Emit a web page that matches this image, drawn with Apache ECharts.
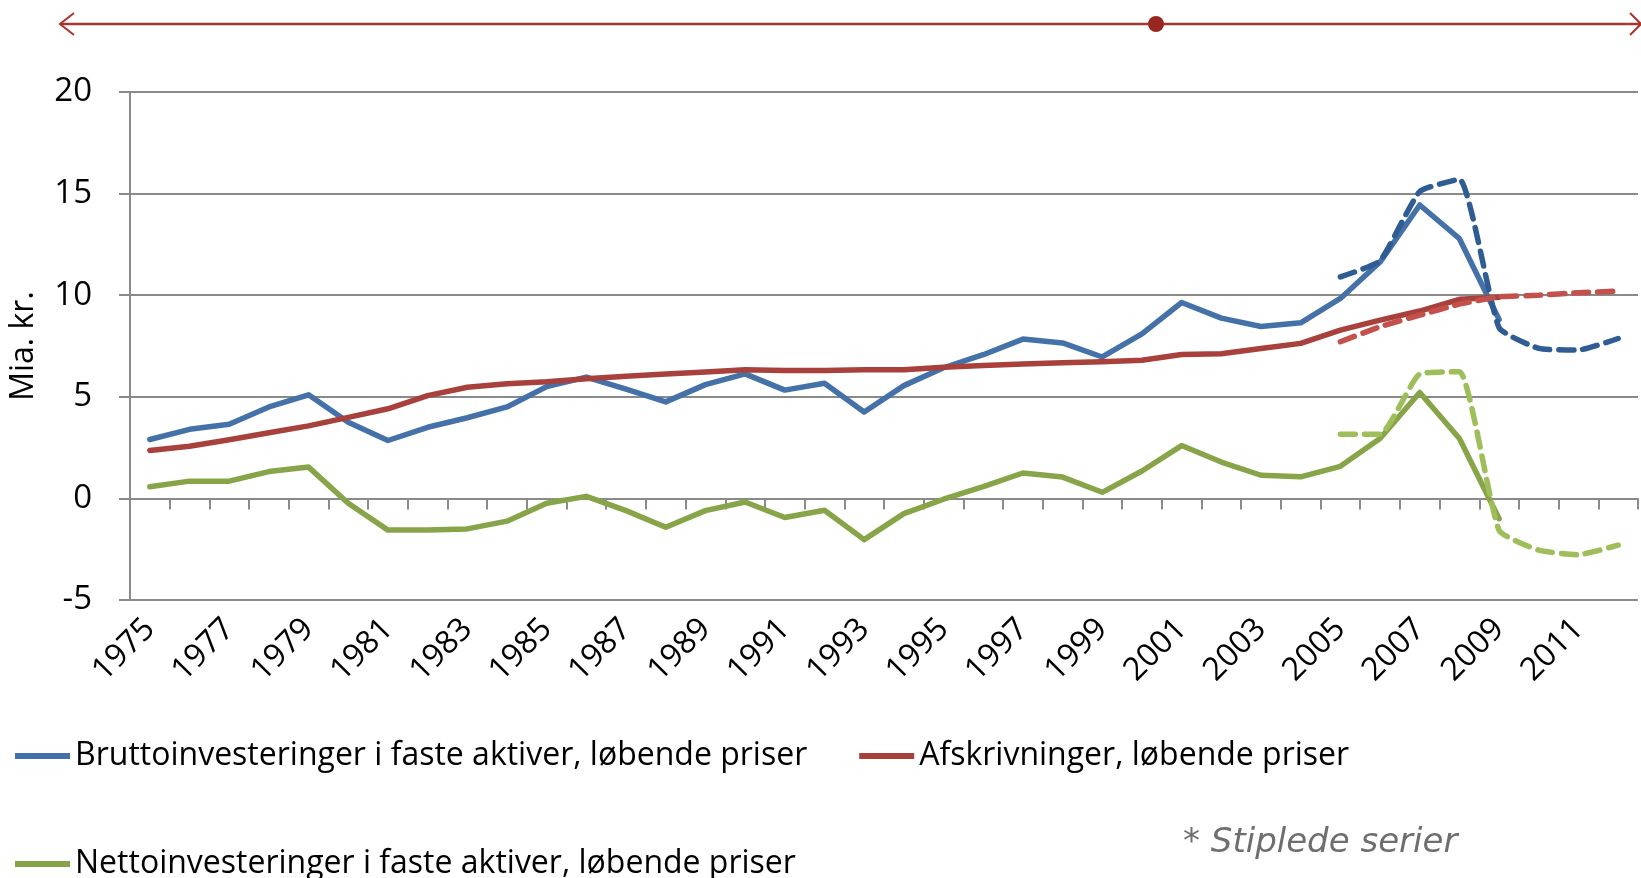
<!DOCTYPE html>
<html>
<head>
<meta charset="utf-8">
<script src="https://cdn.jsdelivr.net/npm/echarts@6/dist/echarts.min.js"></script>
<style>
  html, body { margin: 0; padding: 0; background: #fff; }
  #chart { width: 1641px; height: 878px; }
</style>
</head>
<body>
<div id="chart"></div>
<script>
var years = ['1975','1976','1977','1978','1979','1980','1981','1982','1983','1984',
  '1985','1986','1987','1988','1989','1990','1991','1992','1993','1994',
  '1995','1996','1997','1998','1999','2000','2001','2002','2003','2004',
  '2005','2006','2007','2008','2009','2010','2011','2012'];

var yTicks = [-5, 0, 5, 10, 15, 20];

// solid series, 1975-2009
var brutto = [2.9, 3.4, 3.65, 4.5, 5.1, 3.75, 2.85, 3.5, 3.97, 4.5,
  5.5, 5.97, 5.38, 4.75, 5.6, 6.13, 5.33, 5.67, 4.25, 5.55,
  6.43, 7.07, 7.84, 7.65, 6.96, 8.1, 9.64, 8.87, 8.46, 8.64,
  9.84, 11.63, 14.44, 12.78, 8.8, null, null, null];
var afskr = [2.36, 2.57, 2.89, 3.23, 3.57, 3.99, 4.41, 5.06, 5.47, 5.64,
  5.74, 5.89, 6.01, 6.12, 6.22, 6.33, 6.3, 6.3, 6.33, 6.33,
  6.46, 6.54, 6.62, 6.67, 6.73, 6.8, 7.08, 7.12, 7.38, 7.63,
  8.28, 8.77, 9.22, 9.8, 9.9, null, null, null];
var netto = [0.57, 0.85, 0.85, 1.32, 1.54, -0.24, -1.56, -1.56, -1.5, -1.12,
  -0.24, 0.1, -0.6, -1.42, -0.6, -0.18, -0.94, -0.58, -2.03, -0.75,
  -0.04, 0.58, 1.25, 1.05, 0.3, 1.35, 2.6, 1.79, 1.14, 1.06,
  1.58, 2.95, 5.21, 2.95, -1.0, null, null, null];

// dashed series, 2005-2012
var dashYears = ['2005','2006','2007','2008','2009','2010','2011','2012'];
var bruttoDash = [10.9, 11.7, 15.1, 15.7, 8.4, 7.38, 7.3, 7.87];
var afskrDash = [7.71, 8.45, 9.02, 9.56, 9.92, 10.0, 10.12, 10.2];
var nettoDash = [3.16, 3.16, 6.12, 6.23, -1.57, -2.55, -2.77, -2.3];

var nameB = 'Bruttoinvesteringer i faste aktiver, løbende priser';
var nameA = 'Afskrivninger, løbende priser';
var nameN = 'Nettoinvesteringer i faste aktiver, løbende priser';

var font = '"Liberation Sans Narrow", "Open Sans", sans-serif';
var grey = '#8a8a8a';

function dashPairs(vals) {
  return dashYears.map(function (y, i) { return [y, vals[i]]; });
}

function solid(name, data, color) {
  return {
    name: name, type: 'line', data: data, color: color,
    symbol: 'none', connectNulls: false,
    lineStyle: { width: 5.5, color: color, cap: 'round', join: 'round' },
    z: 3
  };
}
function dashed(name, data, color) {
  return {
    name: name, type: 'line', data: dashPairs(data), color: color,
    symbol: 'none', smooth: 0.15,
    lineStyle: { width: 5.5, color: color, type: [15, 9], cap: 'round' },
    z: 4
  };
}

var chart = echarts.init(document.getElementById('chart'));

var option = {
  animation: false,
  grid: { left: 129, right: 3, top: 92, bottom: 278 },
  xAxis: [{
    type: 'category',
    data: years,
    position: 'top',
    axisLine: { onZero: true, lineStyle: { color: grey, width: 2 } },
    axisTick: { show: true, inside: true, length: 11, lineStyle: { color: grey, width: 2 } },
    axisLabel: { show: false },
    splitLine: { show: false }
  }, {
    type: 'category',
    data: years,
    position: 'bottom',
    axisLine: { show: false, onZero: false },
    axisTick: { show: false },
    axisLabel: {
      rotate: 45, interval: 1, margin: 24,
      fontSize: 32, color: '#000', fontFamily: font
    }
  }],
  yAxis: {
    type: 'value',
    min: yTicks[0], max: yTicks[yTicks.length - 1], interval: 5,
    name: 'Mia. kr.',
    nameLocation: 'middle',
    nameGap: 90,
    nameTextStyle: { fontSize: 32, color: '#000', fontFamily: font },
    axisLine: { show: true, lineStyle: { color: grey, width: 2 } },
    axisTick: { show: true, length: 11, lineStyle: { color: grey, width: 2 } },
    axisLabel: { margin: 38, fontSize: 33, color: '#000', fontFamily: font },
    splitLine: { lineStyle: { color: grey, width: 2 } }
  },
  legend: [{
    data: [nameB, nameA],
    left: 10, top: 735,
    icon: 'rect', itemWidth: 55, itemHeight: 6, itemGap: 52,
    textStyle: { fontSize: 32, color: '#000', fontFamily: font }
  }, {
    data: [nameN],
    left: 10, top: 843,
    icon: 'rect', itemWidth: 55, itemHeight: 6,
    textStyle: { fontSize: 32, color: '#000', fontFamily: font }
  }],
  graphic: [
    { type: 'line', shape: { x1: 60, y1: 24, x2: 1641, y2: 24 },
      style: { stroke: '#a5352d', lineWidth: 2.5 } },
    { type: 'polyline', shape: { points: [[74, 13], [60, 24], [74, 35]] },
      style: { stroke: '#a5352d', lineWidth: 2, fill: null } },
    { type: 'polyline', shape: { points: [[1630, 13], [1641, 24], [1630, 35]] },
      style: { stroke: '#a5352d', lineWidth: 2, fill: null } },
    { type: 'circle', shape: { cx: 1156, cy: 24, r: 8 },
      style: { fill: '#962820' } },
    { type: 'text', left: 1183, top: 826,
      style: { text: '* Stiplede serier', fontSize: 34, fontStyle: 'italic',
        fontFamily: '"DejaVu Sans", sans-serif', fill: '#6e6e6e' } }
  ],
  series: [
    solid(nameB, brutto, '#4571a9'),
    solid(nameA, afskr, '#a8413c'),
    solid(nameN, netto, '#87a548'),
    dashed('Bruttoinvesteringer (stiplet)', bruttoDash, '#2f5c93'),
    dashed('Afskrivninger (stiplet)', afskrDash, '#c4504c'),
    dashed('Nettoinvesteringer (stiplet)', nettoDash, '#9dbe58')
  ]
};

chart.setOption(option);
</script>
</body>
</html>
